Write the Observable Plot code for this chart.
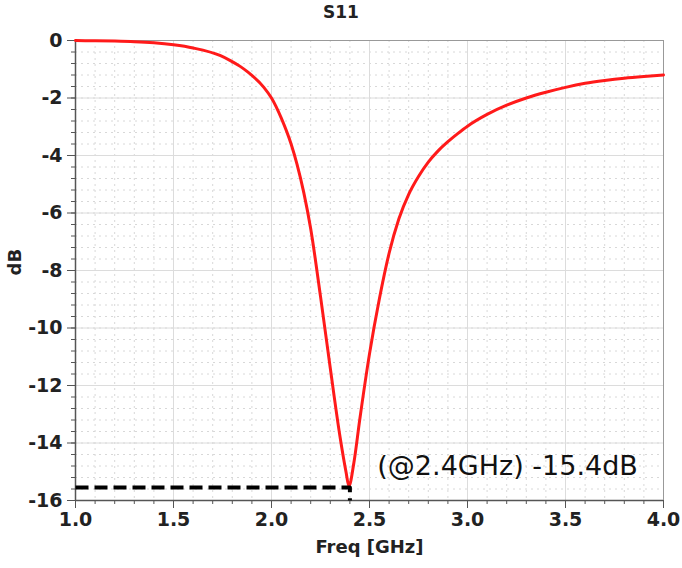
<!DOCTYPE html>
<html>
<head>
<meta charset="utf-8">
<script src="https://cdn.jsdelivr.net/npm/d3@7"></script>
<script src="https://cdn.jsdelivr.net/npm/@observablehq/plot@0.6"></script>
<style>
  html, body { margin: 0; padding: 0; background: #fff; }
  #title { width: 682px; height: 24px; line-height: 24px; text-align: center;
    font-family: "DejaVu Sans", sans-serif; font-weight: bold; font-size: 17px; color: #222; }
</style>
</head>
<body>
<div id="title">S11</div>
<div id="chart"></div>
<script>
const freq = [1.0, 1.1, 1.2, 1.3, 1.4, 1.5, 1.6, 1.74, 1.79, 1.84, 1.88, 1.96, 2.0, 2.05, 2.1, 2.13, 2.165, 2.2, 2.25, 2.3, 2.35, 2.38, 2.395, 2.42, 2.45, 2.5, 2.55, 2.6, 2.65, 2.7, 2.75, 2.8, 2.85, 2.9, 2.95, 3.0, 3.1, 3.2, 3.3, 3.4, 3.5, 3.6, 3.7, 3.8, 3.9, 4.0];
const s11  = [0.0, -0.01, -0.02, -0.04, -0.08, -0.15, -0.26, -0.53, -0.7, -0.9, -1.1, -1.62, -2.0, -2.7, -3.6, -4.3, -5.3, -6.55, -8.9, -11.4, -13.8, -15.0, -15.5, -14.7, -13.2, -10.9, -9.0, -7.4, -6.2, -5.35, -4.73, -4.23, -3.84, -3.52, -3.24, -2.98, -2.57, -2.25, -2.0, -1.8, -1.63, -1.49, -1.39, -1.31, -1.25, -1.2];

const markerFreq = 2.4;
const markerDb = -15.55;
const annotation = "(@2.4GHz) -15.4dB";

const xMajor = [1.0, 1.5, 2.0, 2.5, 3.0, 3.5, 4.0];
const xLabels = ["1.0", "1.5", "2.0", "2.5", "3.0", "3.5", "4.0"];
const xMinor = d3.range(10, 41).map(d => d / 10);
const yMajor = [-16, -14, -12, -10, -8, -6, -4, -2, 0];
const yLabels = ["-16", "-14", "-12", "-10", "-8", "-6", "-4", "-2", "0"];
const yMinor = d3.range(-40, 1).map(d => d * 0.4);

const curve = freq.map((f, i) => ({f, db: s11[i]}));
const font = "DejaVu Sans, sans-serif";

const chart = Plot.plot({
  width: 682,
  height: 544,
  marginTop: 16,
  marginLeft: 75,
  marginRight: 19,
  marginBottom: 68,
  style: {fontFamily: font, fontSize: "19px", fontWeight: "bold", color: "#222", background: "#fff"},
  x: {domain: [1, 4]},
  y: {domain: [-16, 0]},
  marks: [
    Plot.gridX(xMinor, {stroke: "#d8d8d8", strokeOpacity: 1, strokeDasharray: "2,4"}),
    Plot.gridY(yMinor, {stroke: "#d8d8d8", strokeOpacity: 1, strokeDasharray: "2,4"}),
    Plot.gridX(xMajor, {stroke: "#dcdcdc", strokeOpacity: 1}),
    Plot.gridY(yMajor, {stroke: "#dcdcdc", strokeOpacity: 1}),
    Plot.frame({stroke: "#999"}),
    Plot.axisX(xMinor, {tickSize: 4, text: null, stroke: "#555", label: null}),
    Plot.axisY(yMinor, {tickSize: 4, text: null, stroke: "#555", label: null}),
    Plot.axisX(xMajor, {tickSize: 8, tickPadding: 4, stroke: "#555", label: null,
      tickFormat: (d, i) => xLabels[i], fontSize: 19, fontWeight: "bold"}),
    Plot.axisY(yMajor, {tickSize: 8, tickPadding: 5, stroke: "#555", label: null,
      tickFormat: (d, i) => yLabels[i], fontSize: 19, fontWeight: "bold"}),
    Plot.ruleX([1], {stroke: "#555", strokeWidth: 1.5}),
    Plot.ruleY([-16], {stroke: "#555", strokeWidth: 1.5}),
    Plot.line(curve, {x: "f", y: "db", stroke: "#ff1a1a", strokeWidth: 3, curve: "monotone-x"}),
    Plot.line([{f: 1, db: markerDb}, {f: markerFreq, db: markerDb}, {f: markerFreq, db: -16}],
      {x: "f", y: "db", stroke: "#000", strokeWidth: 4, strokeDasharray: "13,6", strokeLinecap: "butt"}),
    Plot.text([annotation], {x: 2.54, y: -14.8, text: d => d, textAnchor: "start",
      fontFamily: "DejaVu Sans, sans-serif", fontWeight: "normal", fontSize: 27, fill: "#111"}),
    Plot.text(["Freq [GHz]"], {frameAnchor: "bottom", dy: 52, text: d => d, fontSize: 18, fontWeight: "bold"}),
    Plot.text(["dB"], {frameAnchor: "left", dx: -60, dy: 5, rotate: -90, text: d => d, fontSize: 18, fontWeight: "bold"})
  ]
});
document.getElementById("chart").appendChild(chart);
</script>
</body>
</html>
